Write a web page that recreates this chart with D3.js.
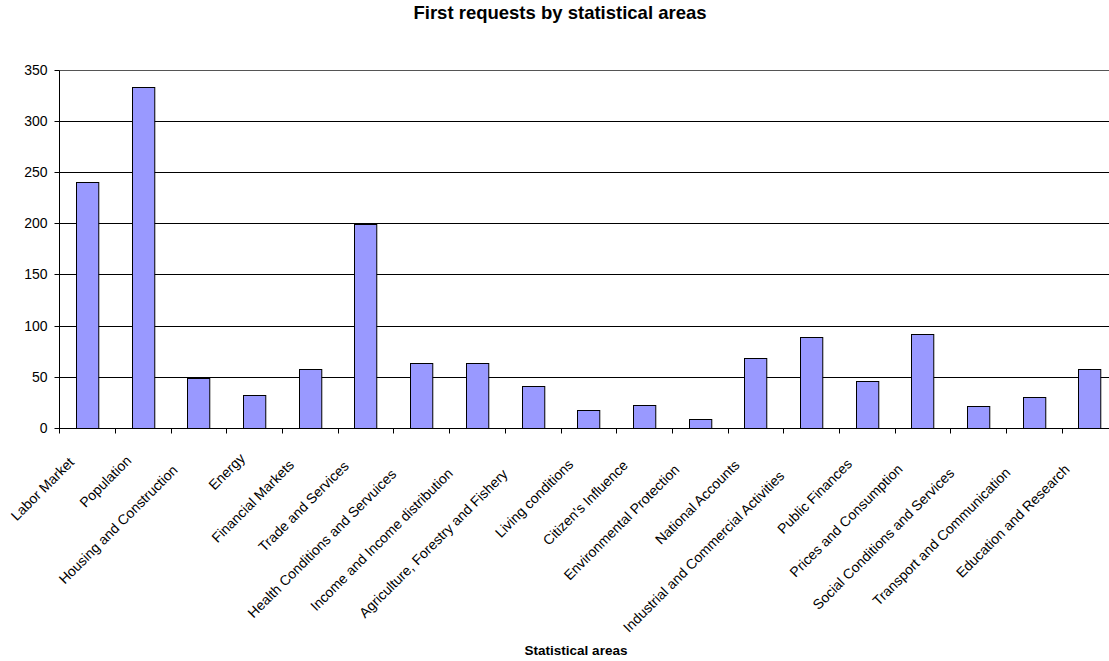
<!DOCTYPE html>
<html>
<head>
<meta charset="utf-8">
<script src="https://cdn.jsdelivr.net/npm/d3@7"></script>
<style>
  html, body { margin: 0; padding: 0; background: #fff; }
  svg { display: block; font-family: "Liberation Sans", Arial, sans-serif; }
</style>
</head>
<body>
<svg id="chart" width="1109" height="661"></svg>
<script>
const categories = [
  "Labor Market", "Population", "Housing and Construction", "Energy",
  "Financial Markets", "Trade and Services", "Health Conditions and Servuices",
  "Income and Income distribution", "Agriculture, Forestry and Fishery",
  "Living conditions", "Citizen's Influence", "Environmental Protection",
  "National Accounts", "Industrial and Commercial Activities", "Public Finances",
  "Prices and Consumption", "Social Conditions and Services",
  "Transport and Communication", "Education and Research"
];
const values = [240, 333, 49, 32, 57, 199, 63, 63, 41, 17, 22, 9, 68, 89, 46, 92, 21, 30, 57];
const yTicks = [0, 50, 100, 150, 200, 250, 300, 350];
const titleText = "First requests by statistical areas";
const xTitleText = "Statistical areas";

(function () {
const svg = d3.select("#chart");
const W = 1109, H = 661;
const mLeft = 59.3, mTop = 70, mBottom = 427.7;
const catW = 55.69;
const mRight = mLeft + catW * categories.length;

svg.append("rect").attr("width", W).attr("height", H).attr("fill", "#fff");

const x = d3.scaleBand().domain(categories).range([mLeft, mRight]).paddingInner(0.6).paddingOuter(0.3);
const xb = d3.scaleBand().domain(categories).range([mLeft, mRight]);
const y = d3.scaleLinear().domain([0, 350]).range([mBottom, mTop]);

// gridlines
svg.append("g").selectAll("line").data(yTicks.filter(d => d > 0)).join("line")
  .attr("x1", mLeft).attr("x2", mRight)
  .attr("y1", d => Math.round(y(d)) + 0.5).attr("y2", d => Math.round(y(d)) + 0.5)
  .attr("stroke", d => d === 350 ? "#555" : "#000").attr("stroke-width", 1);

// bars
svg.append("g").selectAll("rect").data(values).join("rect")
  .attr("x", (d, i) => Math.round(x(categories[i])) + 0.5)
  .attr("width", x.bandwidth())
  .attr("y", d => Math.round(y(d)) + 0.5)
  .attr("height", d => Math.round(y(0)) - Math.round(y(d)))
  .attr("fill", "#9999ff").attr("stroke", "#000").attr("stroke-width", 1);

// y axis
const yAxis = d3.axisLeft(y).tickValues(yTicks).tickSize(5).tickPadding(7).tickFormat(d3.format("d"));
const gy = svg.append("g").attr("transform", `translate(${Math.round(mLeft) + 0.5},0.5)`).call(yAxis);
gy.select(".domain").attr("stroke", "#000").attr("d", `M0,${Math.round(y(350))}V${Math.round(y(0))}`);
gy.selectAll(".tick").attr("transform", d => `translate(0,${Math.round(y(d))})`);
gy.selectAll(".tick line").attr("stroke", "#000");
gy.selectAll(".tick text").attr("font-size", "14px").attr("fill", "#000").attr("font-family", "Liberation Sans, Arial, sans-serif");

// x axis baseline and ticks at category boundaries
svg.append("line").attr("x1", mLeft).attr("x2", mRight)
  .attr("y1", Math.round(y(0)) + 0.5).attr("y2", Math.round(y(0)) + 0.5)
  .attr("stroke", "#000");
const boundaries = categories.map(c => xb(c)).concat([mRight]);
svg.append("g").selectAll("line").data(boundaries).join("line")
  .attr("x1", d => Math.round(d) + 0.5).attr("x2", d => Math.round(d) + 0.5)
  .attr("y1", Math.round(y(0))).attr("y2", Math.round(y(0)) + 5.5)
  .attr("stroke", "#000");

// category labels (Excel-like: layout box wider than drawn glyphs)
const labels = svg.append("g").selectAll("text").data(categories).join("text")
  .attr("transform", c => `translate(${xb(c) + xb.bandwidth() / 2 - 4},455) rotate(-45)`)
  .attr("text-anchor", "end")
  .attr("font-size", "14px")
  .attr("fill", "#000")
  .text(c => c);
labels.attr("x", function () { return -0.14 * this.getComputedTextLength(); });

// titles
svg.append("text").attr("x", 560).attr("y", 19).attr("text-anchor", "middle")
  .attr("font-size", "18.5px").attr("font-weight", "bold").text(titleText);
svg.append("text").attr("x", 576).attr("y", 655).attr("text-anchor", "middle")
  .attr("font-size", "13.5px").attr("font-weight", "bold").text(xTitleText);
})();
</script>
</body>
</html>
